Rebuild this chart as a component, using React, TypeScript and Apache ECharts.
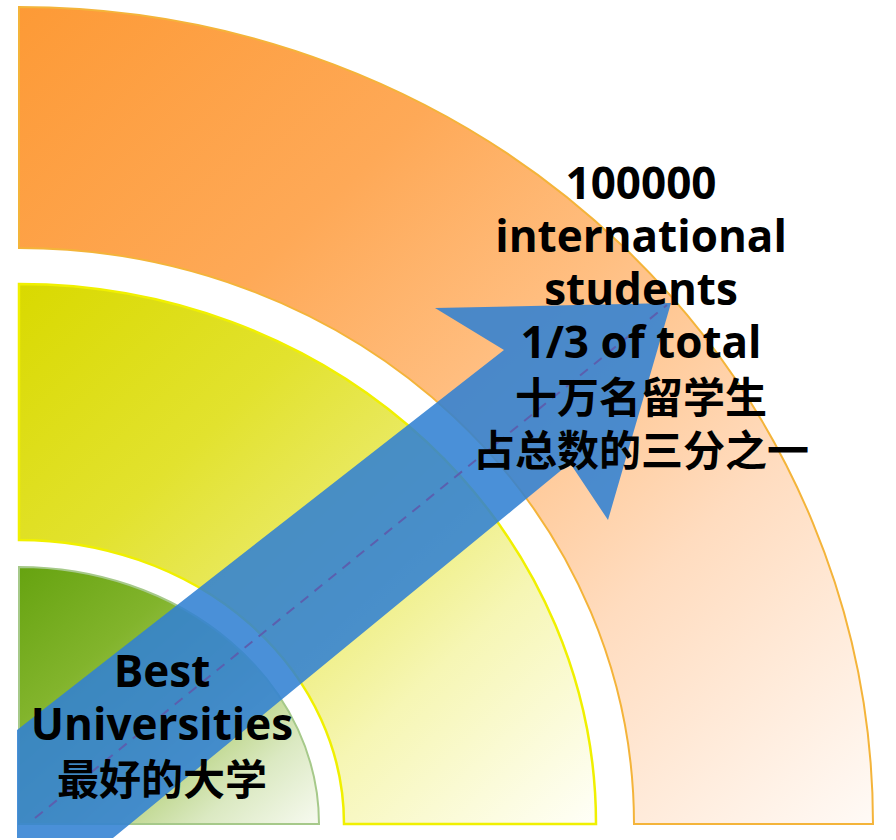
import React, { useEffect, useRef } from "react";
import * as echarts from "echarts";

// Ring tiers (inner green → middle yellow → outer orange), radii in axis units from the common corner
const ringNames = ["Best Universities", "Universities", "International students"];
const ringInnerX = [0, 325, 615];
const ringInnerY = [0, 284, 576];
const ringOuterX = [300, 577, 854];
const ringOuterY = [257, 540, 817];

// Arrow outline, in the same axis units
const arrowX = [-2, 485, 416, 652, 589, 551, 94, -2];
const arrowY = [94, 474, 516, 521, 304, 361, -14, -14];
// Dashed centre line of the arrow
const dashX = [16, 648];
const dashY = [6, 519];

// Labels
const outerLabel = ["100000", "international", "students", "1/3 of total", "十万名留学生", "占总数的三分之一"];
const innerLabel = ["Best", "Universities", "最好的大学"];

const ringFills = [
  [[0, "#66a310"], [0.3, "#82b42c"], [0.55, "#a8c964"], [0.8, "#dbe9c2"], [1, "#f7faf0"]],
  [[0, "#d9d900"], [0.3, "#e2e22e"], [0.5, "#eaea66"], [0.72, "#f6f6b4"], [1, "#fffff8"]],
  [[0, "#fd9a36"], [0.3, "#fea957"], [0.5, "#ffbf82"], [0.72, "#ffdcbf"], [1, "#fffaf6"]],
];
const ringStrokes = ["#a6c98a", "#f0f000", "#f4b43a"];

export default function App() {
  const ref = useRef<HTMLDivElement>(null);
  useEffect(() => {
    if (!ref.current) return;
    const chart = echarts.init(ref.current, null, { renderer: "svg" });

    const isCJK = (s: string) => /[\u4e00-\u9fff]/.test(s);
    const LINE = 53;
    const rich = {
      en: {
        fontSize: 44,
        fontWeight: "bold",
        fontFamily: "Open Sans, Noto Sans CJK SC",
        color: "#000",
        lineHeight: LINE,
        align: "center",
      },
      zh: {
        fontSize: 42,
        fontWeight: "bold",
        fontFamily: "Noto Sans CJK SC",
        color: "#000",
        lineHeight: LINE,
        align: "center",
      },
    };
    const block = (lines: string[], x: number, yFirst: number) => ({
      type: "text",
      x,
      y: yFirst + ((lines.length - 1) * LINE) / 2,
      z: 100,
      style: {
        text: lines.map((s) => `{${isCJK(s) ? "zh" : "en"}|${s}}`).join("\n"),
        rich,
        align: "center",
        verticalAlign: "middle",
      },
    });

    const graphics: any[] = [block(outerLabel, 641, 182), block(innerLabel, 162, 670)];

    const option: any = {
      animation: false,
      backgroundColor: "#ffffff",
      grid: { left: 19, top: 7, width: 854, height: 817, containLabel: false },
      xAxis: { type: "value", min: 0, max: 854, show: false },
      yAxis: { type: "value", min: 0, max: 817, show: false },
      series: [
        {
          type: "custom",
          name: "rings",
          clip: false,
          data: ringNames.map((n, i) => ({ name: n, value: [ringOuterX[i], ringOuterY[i]] })).reverse(),
          renderItem: (params: any, api: any) => {
            const i = ringNames.length - 1 - params.dataIndex;
            const c = api.coord([0, 0]);
            const o = api.coord([ringOuterX[i], ringOuterY[i]]);
            const inn = api.coord([ringInnerX[i], ringInnerY[i]]);
            const rxO = o[0] - c[0];
            const ryO = c[1] - o[1];
            const rxI = inn[0] - c[0];
            const ryI = c[1] - inn[1];
            let d = `M ${c[0]} ${c[1] - ryO} A ${rxO} ${ryO} 0 0 1 ${c[0] + rxO} ${c[1]} `;
            if (rxI > 0) {
              d += `L ${c[0] + rxI} ${c[1]} A ${rxI} ${ryI} 0 0 0 ${c[0]} ${c[1] - ryI} Z`;
            } else {
              d += `L ${c[0]} ${c[1]} Z`;
            }
            return {
              type: "path",
              shape: { pathData: d },
              style: {
                fill: {
                  type: "linear",
                  x: 0,
                  y: 0,
                  x2: 1,
                  y2: 1,
                  colorStops: ringFills[i].map(([offset, color]) => ({ offset, color })),
                },
                stroke: ringStrokes[i],
                lineWidth: i === 1 ? 2.5 : 2,
              },
            };
          },
        },
        {
          type: "custom",
          name: "arrow",
          clip: false,
          z: 5,
          data: [[arrowX[0], arrowY[0]]],
          renderItem: (params: any, api: any) => {
            const pts = arrowX.map((x, k) => api.coord([x, arrowY[k]]));
            const p1 = api.coord([dashX[0], dashY[0]]);
            const p2 = api.coord([dashX[1], dashY[1]]);
            return {
              type: "group",
              children: [
                {
                  type: "polygon",
                  shape: { points: pts },
                  style: { fill: "rgba(49,129,211,0.88)" },
                },
                {
                  type: "line",
                  shape: { x1: p1[0], y1: p1[1], x2: p2[0], y2: p2[1] },
                  style: { stroke: "#5b5fae", lineWidth: 2, lineDash: [10, 8] },
                },
              ],
            };
          },
        },
      ],
      graphic: graphics,
    };
    chart.setOption(option);
    return () => chart.dispose();
  }, []);

  return (
    <div
      ref={ref}
      style={{ position: "fixed", left: 0, top: 0, width: 896, height: 840, background: "#fff" }}
    />
  );
}
